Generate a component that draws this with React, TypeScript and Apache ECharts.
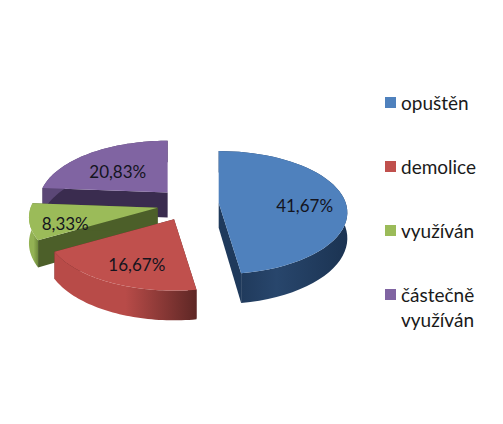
import React, { useEffect, useRef } from "react";
import * as echarts from "echarts";

const categories = ["opuštěn", "demolice", "využíván", "částečně\nvyužíván"];
const values = [41.67, 16.67, 8.33, 20.83];
const topColors = ["#4F81BD", "#C0504D", "#9BBB59", "#8064A2"];
const cutColors = ["#1F3A5C", "#5E2725", "#4C5F29", "#3A2C4F"];
const wallLight = ["#28466C", "#B84B48", "#93B254", "#5B4776"];
const wallDark = ["#1B3352", "#5E2725", "#6E8A3C", "#3A2C4F"];
const paintOrder = [3, 2, 1, 0];

const CX = 188, CY = 204, RX = 127, RY = 60, PERSP = 0.16, DEPTH = 25, EXPLODE = 0.27, EXPLODE_X = 0.9;
const LABEL_DX = 3, LABEL_DY = 6;
const total = values.reduce((a, b) => a + b, 0);
const rad = (i: number) => (values[i] / total) * Math.PI * 2;
const startOf = (i: number) => { let s = 0; for (let k = 0; k < i; k++) s += rad(k); return s; };

function project(u: number, v: number) {
  const s = 1 / (1 - PERSP * v);
  return { x: u * s * RX, y: v * s * RY, s };
}
const polar = (a: number, r = 1) => project(Math.sin(a) * r, -Math.cos(a) * r);

function sliceChildren(i: number) {
  const a0 = startOf(i), a1 = a0 + rad(i), mid = (a0 + a1) / 2;
  const off = polar(mid, EXPLODE);
  const ax = CX + off.x * EXPLODE_X, ay = CY + off.y;
  const n = 48;
  const arc: { x: number; y: number; d: number }[] = [];
  for (let k = 0; k <= n; k++) {
    const p = polar(a0 + ((a1 - a0) * k) / n);
    arc.push({ x: ax + p.x, y: ay + p.y, d: DEPTH * p.s });
  }
  const first = arc[0], last = arc[n];
  const top = [[ax, ay], ...arc.map((p) => [p.x, p.y])];
  const outer = [...arc.map((p) => [p.x, p.y]), ...arc.slice().reverse().map((p) => [p.x, p.y + p.d])];
  const cut = (p: { x: number; y: number; d: number }) => ({
    type: "polygon",
    shape: { points: [[ax, ay], [p.x, p.y], [p.x, p.y + p.d], [ax, ay + DEPTH]] },
    style: { fill: cutColors[i] },
  });
  const labelR = i === 2 ? 0.75 : 0.66;
  const lp = polar(mid, labelR);
  return [
    cut(first),
    cut(last),
    {
      type: "polygon",
      shape: { points: outer },
      style: {
        fill: {
          type: "linear", x: 0, y: 0, x2: 1, y2: 0,
          colorStops: [
            { offset: 0, color: i === 0 ? wallDark[i] : wallLight[i] },
            { offset: i === 0 ? 0.45 : 0.5, color: wallLight[i] },
            { offset: 1, color: wallDark[i] },
          ],
        },
      },
    },
    { type: "polygon", shape: { points: top }, style: { fill: topColors[i] } },
    {
      type: "text",
      style: {
        x: ax + lp.x + LABEL_DX, y: ay + lp.y + LABEL_DY,
        text: values[i].toFixed(2).replace(".", ",") + "%",
        fill: "#14141E", font: "17px Lato", align: "center", verticalAlign: "middle",
      },
    },
  ];
}

const legendX = 385, legendY = 97, legendStep = 64;

export default function App() {
  const ref = useRef<HTMLDivElement>(null);
  useEffect(() => {
    document.body.style.margin = "0";
    const chart = echarts.init(ref.current!, undefined, { renderer: "svg" });
    chart.setOption({
      animation: false,
      backgroundColor: "#ffffff",
      series: paintOrder.map((i, z) => ({
        type: "custom",
        name: categories[i].replace("\n", " "),
        coordinateSystem: "none",
        z: z + 2,
        silent: true,
        data: [values[i]],
        renderItem: () => ({ type: "group", children: sliceChildren(i) }),
      })),
      graphic: categories.flatMap((c, i) => [
        {
          type: "rect",
          shape: { x: legendX, y: legendY + i * legendStep, width: 11, height: 11 },
          style: { fill: topColors[i] },
        },
        {
          type: "text",
          style: {
            x: 401, y: legendY - 7 + i * legendStep,
            text: c, fill: "#1a1a1a", font: "19px Lato", lineHeight: 25,
            letterSpacing: 1.2,
          } as any,
        },
      ]),
    });
    return () => chart.dispose();
  }, []);
  return <div ref={ref} style={{ position: "absolute", left: 0, top: 0, width: 503, height: 424 }} />;
}
